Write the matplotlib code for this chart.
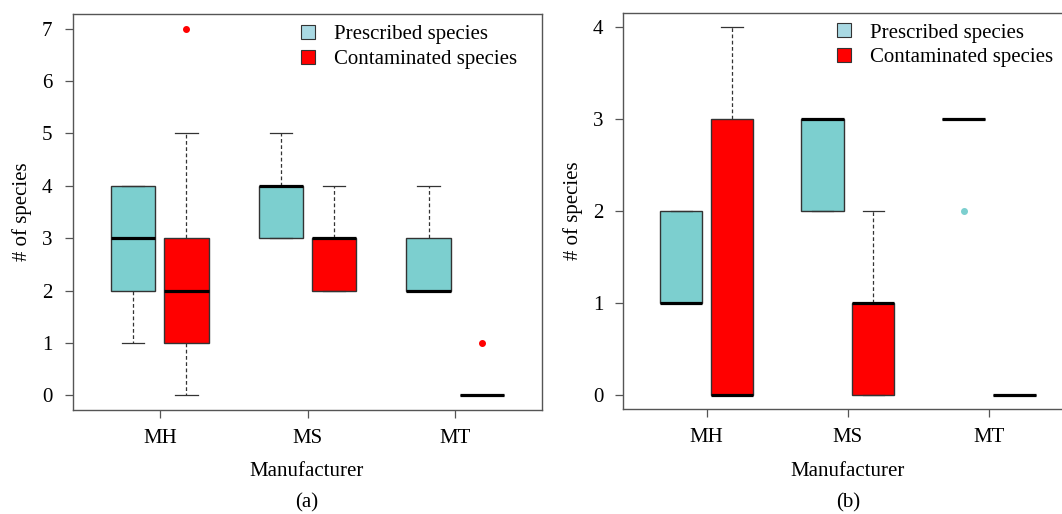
import matplotlib.pyplot as plt
from matplotlib.lines import Line2D

plt.rcParams['font.family'] = ['Liberation Serif', 'DejaVu Serif']
plt.rcParams['font.size'] = 15

groups = ["MH", "MS", "MT"]

# (a) five-number summaries
presc_a_low = [1, 3, 2]
presc_a_q1 = [2, 3, 2]
presc_a_med = [3, 4, 2]
presc_a_q3 = [4, 4, 3]
presc_a_high = [4, 5, 4]
presc_a_out = [[], [], []]

contam_a_low = [0, 2, 0]
contam_a_q1 = [1, 2, 0]
contam_a_med = [2, 3, 0]
contam_a_q3 = [3, 3, 0]
contam_a_high = [5, 4, 0]
contam_a_out = [[7], [], [1]]

# (b)
presc_b_low = [1, 2, 3]
presc_b_q1 = [1, 2, 3]
presc_b_med = [1, 3, 3]
presc_b_q3 = [2, 3, 3]
presc_b_high = [2, 3, 3]
presc_b_out = [[], [], [2]]

contam_b_low = [0, 0, 0]
contam_b_q1 = [0, 0, 0]
contam_b_med = [0, 1, 0]
contam_b_q3 = [3, 1, 0]
contam_b_high = [4, 2, 0]
contam_b_out = [[], [], []]

CYAN = "#7ccfcf"
CYAN_LEG = "#a9d9e3"
RED = "#ff0000"
EDGE = "#333333"
SPINE = "#555555"


def make_stats(low, q1, med, q3, high, out):
    return [dict(whislo=a, q1=b, med=c, q3=d, whishi=e, fliers=f)
            for a, b, c, d, e, f in zip(low, q1, med, q3, high, out)]


def draw_group(ax, stats, positions, color):
    ax.bxp(stats, positions=positions, widths=0.3, capwidths=0.15,
           patch_artist=True, manage_ticks=False,
           boxprops=dict(facecolor=color, edgecolor=EDGE, linewidth=1.0),
           medianprops=dict(color="black", linewidth=2.3, solid_capstyle="butt"),
           whiskerprops=dict(color=EDGE, linewidth=0.9, linestyle=(0, (3, 2))),
           capprops=dict(color=EDGE, linewidth=0.9),
           flierprops=dict(marker="o", markersize=4, markerfacecolor=color,
                           markeredgecolor=color))


def draw_panel(ax, presc, contam, ymax):
    xs = [i + 1 for i in range(len(groups))]
    draw_group(ax, presc, [x - 0.18 for x in xs], CYAN)
    draw_group(ax, contam, [x + 0.18 for x in xs], RED)
    ax.set_xlim(0.41, 3.59)
    ax.set_ylim(-0.04 * ymax, ymax * 1.04)
    ax.set_xticks(xs)
    ax.set_xticklabels(groups)
    ax.set_yticks(range(ymax + 1))
    ax.tick_params(axis="y", length=5.5, width=0.9, pad=9, color=SPINE)
    ax.tick_params(axis="x", length=5.5, width=0.9, pad=8, color=SPINE)
    for s in ax.spines.values():
        s.set_color(SPINE)
        s.set_linewidth(1.0)
    ax.set_ylabel("# of species", labelpad=7)
    handles = [
        Line2D([], [], linestyle="none", marker="s", markersize=9.5,
               markerfacecolor=CYAN_LEG, markeredgecolor=EDGE, markeredgewidth=0.8),
        Line2D([], [], linestyle="none", marker="s", markersize=9.5,
               markerfacecolor=RED, markeredgecolor=EDGE, markeredgewidth=0.8),
    ]
    return handles


fig = plt.figure(figsize=(10.62, 5.14), dpi=100)
ax_a = fig.add_axes([0.0685, 0.2023, 0.4421, 0.7704])
ax_b = fig.add_axes([0.5869, 0.2037, 0.4228, 0.7716])

leg_opts = dict(frameon=False, loc="upper left", borderaxespad=0, borderpad=0.5,
                handlelength=1.0, handletextpad=0.76, labelspacing=0.25)

h = draw_panel(ax_a,
               make_stats(presc_a_low, presc_a_q1, presc_a_med, presc_a_q3, presc_a_high, presc_a_out),
               make_stats(contam_a_low, contam_a_q1, contam_a_med, contam_a_q3, contam_a_high, contam_a_out),
               7)
ax_a.legend(h, ["Prescribed species", "Contaminated species"],
            bbox_to_anchor=(0.456, 1.0), **leg_opts)

h = draw_panel(ax_b,
               make_stats(presc_b_low, presc_b_q1, presc_b_med, presc_b_q3, presc_b_high, presc_b_out),
               make_stats(contam_b_low, contam_b_q1, contam_b_med, contam_b_q3, contam_b_high, contam_b_out),
               4)
ax_b.legend(h, ["Prescribed species", "Contaminated species"],
            bbox_to_anchor=(0.445, 1.0), **leg_opts)

fig.text(307 / 1062, 1 - 471 / 514, "Manufacturer", ha="center", va="center")
fig.text(848 / 1062, 1 - 471 / 514, "Manufacturer", ha="center", va="center")
fig.text(307 / 1062, 1 - 503 / 514, "(a)", ha="center", va="center")
fig.text(848 / 1062, 1 - 503 / 514, "(b)", ha="center", va="center")

plt.savefig("out.png", dpi=100)
plt.close()
